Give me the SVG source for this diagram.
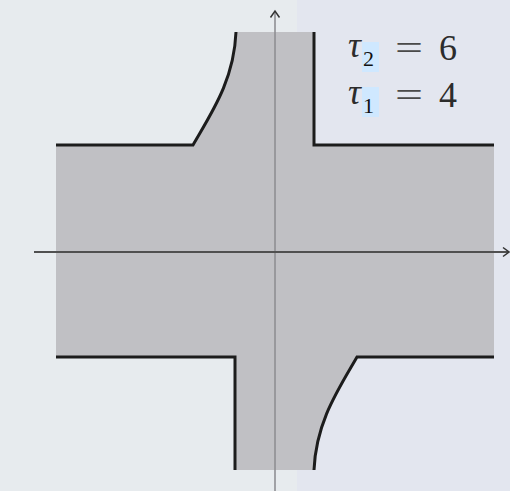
<svg xmlns="http://www.w3.org/2000/svg" width="510" height="491" viewBox="0 0 510 491">
<style>
.edge{fill:none;stroke:#1c1c1c;stroke-width:3;stroke-linejoin:miter}
text{font-family:"Liberation Serif","Times New Roman",serif;fill:#2c2c2c}
.sub{fill:#111}
.eq{fill:#4a4a4a}
.hl{fill:#cfe8ff}
</style>
<g id="background">
<rect x="0" y="0" width="297" height="491" fill="#e7ebee"/>
<rect x="297" y="0" width="213" height="491" fill="#e3e6ef"/>
</g>
<g id="region">
<path d="M56,145 H193 C212,112 234,80 236,32 H314 V145 H494 V357 H357 C338,390 316,422 314,470 H235 V357 H56 Z" fill="#c0c0c4"/>
</g>
<g id="boundary">
<path class="edge" d="M56,145 H193 C212,112 234,80 236,32"/>
<path class="edge" d="M314,32 V145 H494"/>
<path class="edge" d="M56,357 H235 V470"/>
<path class="edge" d="M314,470 C316,422 338,390 357,357 H494"/>
</g>
<g id="axes">
<line x1="275" y1="11" x2="275" y2="491" stroke="#8f8f93" stroke-width="1.6"/>
<polyline points="270.5,17.5 275,11 279.5,17.5" fill="none" stroke="#333" stroke-width="1.5"/>
<line x1="34" y1="252" x2="508" y2="252" stroke="#505050" stroke-width="1.8"/>
<polyline points="503,247.5 509,252 503,256.5" fill="none" stroke="#333" stroke-width="1.5"/>
</g>
<g id="labels">
<rect class="hl" x="362" y="42" width="17" height="30"/>
<rect class="hl" x="362" y="87" width="17" height="30"/>
<text x="348" y="57" font-size="36" font-style="italic">τ</text>
<text class="sub" x="363" y="65.5" font-size="22">2</text>
<text class="eq" x="395" y="60" font-size="36" textLength="28" lengthAdjust="spacingAndGlyphs">=</text>
<text x="439" y="60" font-size="36">6</text>
<text x="348" y="104" font-size="36" font-style="italic">τ</text>
<text class="sub" x="363" y="112.5" font-size="22">1</text>
<text class="eq" x="395" y="107" font-size="36" textLength="28" lengthAdjust="spacingAndGlyphs">=</text>
<text x="439" y="107" font-size="36">4</text>
</g>
</svg>
